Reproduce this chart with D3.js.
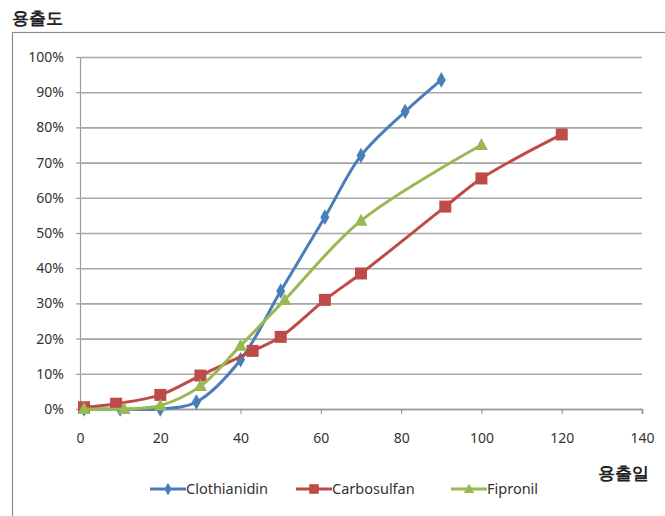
<!DOCTYPE html>
<html><head><meta charset="utf-8">
<script src="https://cdn.jsdelivr.net/npm/d3@7"></script>
<style>
body{margin:0;background:#fff;}
svg{display:block;}
text{font-family:"Noto Sans","Open Sans",sans-serif;}
</style></head>
<body>
<script>
const seriesNames = ["Clothianidin", "Carbosulfan", "Fipronil"];
const clothianidinDays = [1, 10, 20, 29, 40, 50, 61, 70, 81, 90];
const clothianidinVals = [0, 0, 0, 2, 14, 33.5, 54.5, 72, 84.5, 93.5];
const carbosulfanDays = [1, 9, 20, 30, 43, 50, 61, 70, 91, 100, 120];
const carbosulfanVals = [0.5, 1.5, 4, 9.5, 16.5, 20.5, 31, 38.5, 57.5, 65.5, 78];
const fipronilDays = [1, 11, 20, 30, 40, 51, 70, 100];
const fipronilVals = [0, 0, 1, 6.5, 18, 31, 53.5, 75];
const xTicks = [0, 20, 40, 60, 80, 100, 120, 140];
const yTicks = [0, 10, 20, 30, 40, 50, 60, 70, 80, 90, 100];
const yTitle = "용출도";
const xTitle = "용출일";

const colors = ["#4a7ebb", "#be4b48", "#98b954"];
const markers = ["diamond", "square", "triangle"];

const W = 665, H = 516;
const svg = d3.select("body").append("svg").attr("width", W).attr("height", H);

// outer frame
svg.append("rect").attr("x", 12.5).attr("y", 32.5).attr("width", 700).attr("height", 600)
  .attr("fill", "none").attr("stroke", "#8c8c8c").attr("stroke-width", 1.2);

const x = d3.scaleLinear().domain([0, 140]).range([80, 642]);
const y = d3.scaleLinear().domain([0, 100]).range([409, 57]);

svg.append("g").attr("transform", "translate(80,0)")
  .call(d3.axisLeft(y).tickValues(yTicks).tickSize(4).tickFormat(d => d + "%"))
  .call(g => g.select(".domain").attr("stroke", "#9a9a9a").attr("stroke-width", 1.2))
  .call(g => g.selectAll(".tick line").attr("stroke", "#9a9a9a").attr("stroke-width", 1.2))
  .call(g => g.selectAll(".tick").append("line").attr("x1", 0).attr("x2", 562)
      .attr("stroke", "#a6a6a6").attr("stroke-width", 1.6))
  .call(g => g.selectAll(".tick text").attr("x", -16).attr("fill", "#333").attr("font-size", 14));

svg.append("g").attr("transform", "translate(0,409)")
  .call(d3.axisBottom(x).tickValues(xTicks).tickSize(5).tickFormat(d3.format("d")))
  .call(g => g.select(".domain").attr("stroke", "#9a9a9a").attr("stroke-width", 1.6))
  .call(g => g.selectAll(".tick line").attr("stroke", "#9a9a9a").attr("stroke-width", 1.2))
  .call(g => g.selectAll(".tick text").attr("y", 24).attr("fill", "#333").attr("font-size", 14));

const series = [
  {name: seriesNames[0], days: clothianidinDays, vals: clothianidinVals},
  {name: seriesNames[1], days: carbosulfanDays, vals: carbosulfanVals},
  {name: seriesNames[2], days: fipronilDays, vals: fipronilVals}
];

const line = d3.line().x(d => x(d[0])).y(d => y(d[1])).curve(d3.curveCatmullRom.alpha(0.5));

function markerPath(type, s) {
  s = s || 1;
  if (type === "diamond") return d3.symbol().type(d3.symbolDiamond).size(70 * s * s)();
  if (type === "square") return `M${-6*s},${-6*s}H${6*s}V${6*s}H${-6*s}Z`;
  return `M0,${-7*s}L${6.5*s},${5*s}H${-6.5*s}Z`;
}

series.forEach((s, i) => {
  const pts = s.days.map((d, j) => [d, s.vals[j]]);
  const g = svg.append("g");
  g.append("path").attr("d", line(pts)).attr("fill", "none")
    .attr("stroke", colors[i]).attr("stroke-width", 3).attr("stroke-linejoin", "round");
  g.selectAll("path.m").data(pts).join("path").attr("class", "m")
    .attr("transform", d => `translate(${x(d[0])},${y(d[1])})`)
    .attr("d", markerPath(markers[i])).attr("fill", colors[i]);
});

svg.append("text").attr("x", 12).attr("y", 24).text(yTitle)
  .attr("font-family", "'Noto Sans CJK KR'").attr("font-weight", "bold").attr("font-size", 17).attr("fill", "#222");
svg.append("text").attr("x", 598).attr("y", 479).text(xTitle)
  .attr("font-family", "'Noto Sans CJK KR'").attr("font-weight", "bold").attr("font-size", 17).attr("fill", "#222");

const legendX = [150, 296, 451];
series.forEach((s, i) => {
  const g = svg.append("g").attr("transform", `translate(${legendX[i]},489)`);
  g.append("line").attr("x1", 0).attr("x2", 36).attr("stroke", colors[i]).attr("stroke-width", 3);
  g.append("path").attr("transform", "translate(18,0)").attr("d", markerPath(markers[i], 0.8)).attr("fill", colors[i]);
  g.append("text").attr("x", 36).attr("y", 5).text(s.name).attr("font-size", 14.5).attr("fill", "#333");
});
</script>
</body></html>
